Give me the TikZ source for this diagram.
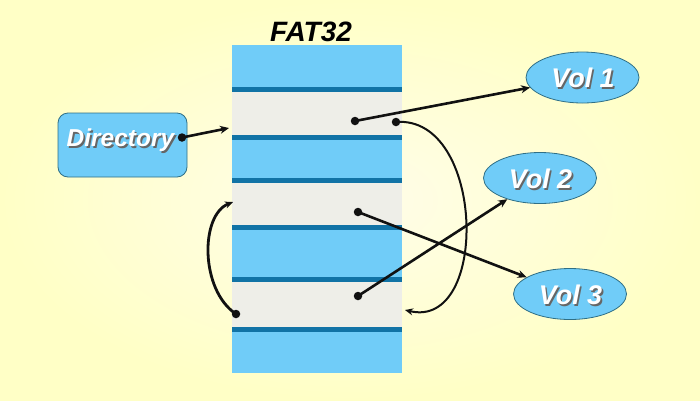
\documentclass[tikz,border=0pt]{standalone}
\usepackage{fontspec}
\setmainfont{Liberation Sans}
\usetikzlibrary{arrows.meta,shapes.geometric}
\definecolor{bgin}{HTML}{FFFDEA}
\definecolor{bgout}{HTML}{FFFFC6}
\definecolor{lblue}{HTML}{70CCF8}
\definecolor{dblue}{HTML}{1173A6}
\definecolor{lgray}{HTML}{EEEEE8}
\definecolor{edge}{HTML}{2F6F86}
\definecolor{ink}{HTML}{111111}
\newcommand\shadowtext[1]{\makebox[0pt][l]{\raisebox{-2pt}{\hspace{1.7pt}\textcolor{black!60}{#1}}}#1}
\tikzset{
  voltext/.style={font=\bfseries\itshape\fontsize{27}{27}\selectfont, text=white},
  volell/.style={ellipse, draw=edge, line width=0.8pt, fill=lblue, minimum width=113pt, minimum height=51pt},
  link/.style={draw=ink, line width=2.6pt, -{Stealth[length=9pt,width=8pt]}},
  curvelink/.style={draw=ink, line width=2pt, -{Stealth[length=8pt,width=7pt]}},
  dot/.style={circle, fill=ink, inner sep=0pt, minimum size=8.5pt},
  sep/.style={fill=dblue, draw=none},
}
\begin{document}
\begin{tikzpicture}[x=1pt,y=-1pt]
\useasboundingbox (0,0) rectangle (700,400);
\shade[inner color=bgin, outer color=bgout] (0,0) rectangle (700,400);
% FAT32 column
\fill[lblue] (232,45) rectangle (402,373);
\fill[lgray] (232,92) rectangle (402,135);
\fill[lgray] (232,183) rectangle (402,225);
\fill[lgray] (232,282) rectangle (402,327);
\fill[sep] (232,87) rectangle (402,92);
\fill[sep] (232,135) rectangle (402,140);
\fill[sep] (232,178) rectangle (402,183);
\fill[sep] (232,225) rectangle (402,230);
\fill[sep] (232,277) rectangle (402,282);
\fill[sep] (232,327) rectangle (402,332);
\node[font=\bfseries\itshape\fontsize{28}{28}\selectfont, anchor=base] (title) at (311,41) {FAT32};
% Directory
\node[draw=edge, line width=0.8pt, fill=lblue, rounded corners=10pt, minimum width=129pt, minimum height=64pt] (dir) at (122.5,145) {};
\node[font=\bfseries\itshape\fontsize{24.5}{24.5}\selectfont, text=white] (dirtx) at (120.5,141.5) {\shadowtext{Directory}};
% Volumes
\node[volell] (v1) at (582.5,77.5) {};
\node[voltext] (v1t) at (583,79) {\shadowtext{Vol 1}};
\node[volell] (v2) at (540,178) {};
\node[voltext] (v2t) at (540.5,179.5) {\shadowtext{Vol 2}};
\node[volell] (v3) at (570,294) {};
\node[voltext] (v3t) at (570.5,295.5) {\shadowtext{Vol 3}};
% dots
\node[dot] (d0) at (182,137.5) {};
\node[dot] (d1) at (355,121) {};
\node[dot] (d2) at (396,122) {};
\node[dot] (d3) at (358,212) {};
\node[dot] (d4) at (358,296) {};
\node[dot] (d5) at (236,314) {};
\coordinate (e0) at (229,128);
\coordinate (e2) at (405,310);
\coordinate (e5) at (233,202);
% links
\draw[link] (d0.center) -- (e0);
\draw[link] (d1.center) -- (v1);
\draw[link] (d3.center) -- (v3);
\draw[link] (d4.center) -- (v2);
\draw[curvelink] (d2.center) .. controls (485,115) and (490,330) .. (e2);
\draw[curvelink, line width=2.8pt] (d5.center) .. controls (200,290) and (200,215) .. (e5);
\end{tikzpicture}
\end{document}
